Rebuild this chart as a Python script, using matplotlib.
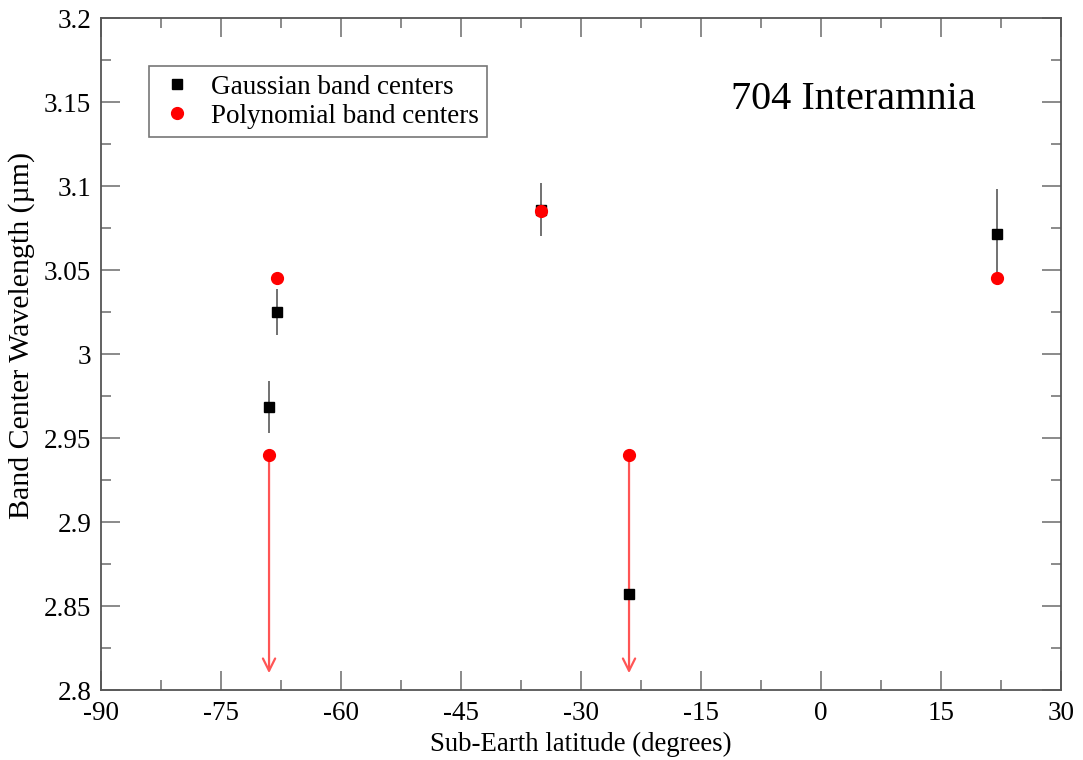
import matplotlib
matplotlib.use("Agg")
import matplotlib.pyplot as plt
from matplotlib.ticker import MultipleLocator, FormatStrFormatter

plt.rcParams['font.family'] = ['Liberation Serif', 'DejaVu Serif']
plt.rcParams['axes.unicode_minus'] = False

# Gaussian band centers
gauss_lat = [-68, -69, -35, -24, 22]
gauss_wl = [3.025, 2.9685, 3.086, 2.857, 3.0715]
gauss_err = [0.0137, 0.0155, 0.016, 0.0, 0.027]

# Polynomial band centers
poly_lat = [-68, -69, -35, -24, 22]
poly_wl = [3.045, 2.940, 3.085, 2.940, 3.045]
# upper limits (arrows pointing down)
arrow_lat = [-69, -24]
arrow_top = [2.940, 2.940]
arrow_bottom = [2.810, 2.810]

fig = plt.figure(figsize=(10.83, 7.6), dpi=100)
ax = fig.add_axes([0.0933, 0.0921, 0.8864, 0.8842])

for lat, top, bot in zip(arrow_lat, arrow_top, arrow_bottom):
    ax.annotate('', xy=(lat, bot), xytext=(lat, top),
                arrowprops=dict(arrowstyle='->', color='#ff5555', lw=1.6,
                                mutation_scale=22, shrinkA=0, shrinkB=0),
                zorder=1)

ax.errorbar(gauss_lat, gauss_wl, yerr=gauss_err, fmt='none', ecolor='#666666',
            elinewidth=1.3, capsize=0, zorder=2)
ax.plot(gauss_lat, gauss_wl, 's', color='black', markersize=7.5, zorder=3,
        label='Gaussian band centers')
ax.plot(poly_lat, poly_wl, 'o', color='red', markersize=8.5, zorder=4,
        label='Polynomial band centers')

ax.set_xlim(-90, 30)
ax.set_ylim(2.8, 3.2)
ax.xaxis.set_major_locator(MultipleLocator(15))
ax.xaxis.set_minor_locator(MultipleLocator(7.5))
ax.yaxis.set_major_locator(MultipleLocator(0.05))
ax.yaxis.set_minor_locator(MultipleLocator(0.025))
ax.yaxis.set_major_formatter(FormatStrFormatter('%g'))
ax.xaxis.set_major_formatter(FormatStrFormatter('%g'))

ax.tick_params(which='both', direction='in', top=True, right=True,
               colors='#777777', labelcolor='black', labelsize=19.5)
ax.tick_params(which='major', length=14, width=1.2)
ax.tick_params(which='minor', length=7, width=1.2)
ax.tick_params(axis='x', which='major', pad=8)
ax.tick_params(axis='y', which='major', pad=7)
for s in ax.spines.values():
    s.set_color('#555555')
    s.set_linewidth(1.3)

ax.set_xlabel('Sub-Earth latitude (degrees)', fontsize=19.3, labelpad=4)
ax.set_ylabel('Band Center Wavelength (\u00b5m)', fontsize=21.5)
ax.yaxis.set_label_coords(-0.069, 0.528)

ax.text(0.784, 0.878, '704 Interamnia', transform=ax.transAxes, fontsize=29,
        ha='center', va='center')

leg = ax.legend(loc='upper left', bbox_to_anchor=(0.05, 0.928), fontsize=19.5,
                frameon=True, fancybox=False, edgecolor='#555555',
                handletextpad=0.5, borderpad=0.3, labelspacing=0.15,
                handlelength=1.5, numpoints=1, borderaxespad=0)
leg.get_frame().set_linewidth(1.2)

fig.savefig('out.png', dpi=100)
